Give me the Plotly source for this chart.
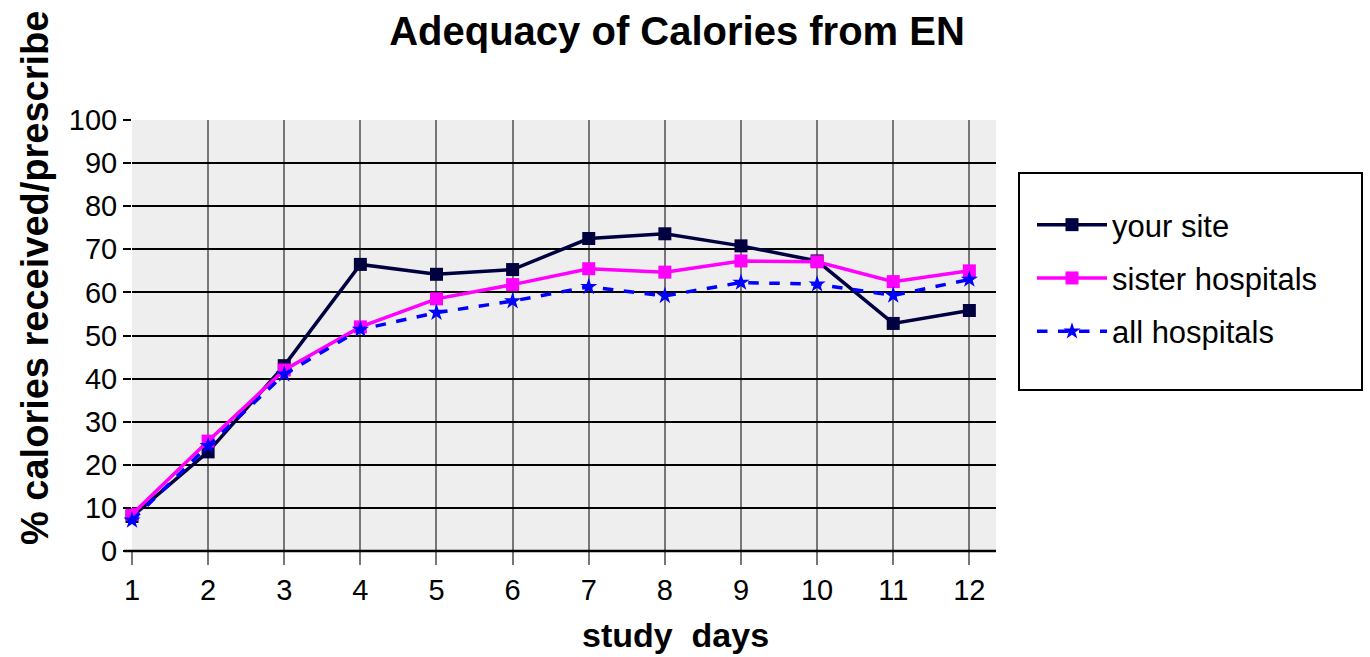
import plotly.graph_objects as go

days = list(range(1, 13))
your_site = [8.0, 23.0, 43.0, 66.5, 64.2, 65.3, 72.5, 73.6, 70.8, 67.3, 52.8, 55.8]
sister_hospitals = [8.5, 25.5, 42.0, 52.0, 58.5, 61.8, 65.5, 64.7, 67.3, 67.1, 62.5, 65.0]
all_hospitals = [7.1, 24.4, 41.0, 51.4, 55.3, 58.0, 61.3, 59.2, 62.3, 61.9, 59.3, 63.0]
series_names = ["your site", "sister hospitals", "all hospitals"]
y_ticks = list(range(0, 101, 10))

FONT = "Liberation Sans, Arial, sans-serif"

fig = go.Figure()
fig.add_trace(go.Scatter(
    x=days, y=your_site, name=series_names[0], mode="lines+markers",
    line=dict(color="#000040", width=3.5),
    marker=dict(symbol="square", size=13, color="#000040"),
    cliponaxis=False, legendgroup="a"))
fig.add_trace(go.Scatter(
    x=days, y=sister_hospitals, name=series_names[1], mode="lines+markers",
    line=dict(color="#ff00ff", width=3.5),
    marker=dict(symbol="square", size=13, color="#ff00ff"),
    cliponaxis=False, legendgroup="b"))
fig.add_trace(go.Scatter(
    x=days, y=all_hospitals, name=series_names[2], mode="lines+markers",
    line=dict(color="#0000ff", width=3.5, dash="dash"),
    marker=dict(symbol="star", size=13, color="#0000ff"),
    cliponaxis=False, legendgroup="c"))

W, H = 1370, 657
L, R, T, B = 132, 374, 120, 106
pw = W - L - R
ph = H - T - B

def px_x(p):
    return (p - L) / pw

def px_y(p):
    return (H - B - p) / ph

fig.update_layout(
    width=W, height=H,
    margin=dict(l=L, r=R, t=T, b=B),
    paper_bgcolor="white",
    plot_bgcolor="#eeeeee",
    font=dict(family=FONT, color="black"),
    title=dict(text="<b>Adequacy of Calories from EN</b>", font=dict(size=40, family=FONT),
               x=px_x(677), xref="paper", xanchor="center",
               y=1 - 31 / H, yref="container", yanchor="middle"),
    xaxis=dict(range=[1, 12.35], tickvals=days, ticktext=[str(d) for d in days],
               showgrid=True, gridcolor="#777777", gridwidth=2,
               ticks="outside", ticklen=13, tickwidth=2, tickcolor="#777777",
               tickfont=dict(size=29, family=FONT),
               showline=False, zeroline=False),
    yaxis=dict(range=[0, 100], tickvals=y_ticks,
               showgrid=True, gridcolor="black", gridwidth=2,
               ticks="outside", ticklen=8, tickwidth=2, tickcolor="black",
               tickfont=dict(size=29, family=FONT),
               showline=False, zeroline=False),
    showlegend=True,
    legend=dict(x=px_x(1032), y=px_y(198), xanchor="left", yanchor="top",
                xref="paper", yref="paper",
                bgcolor="rgba(0,0,0,0)", borderwidth=0,
                font=dict(size=31, family=FONT),
                itemwidth=70,
                traceorder="grouped", tracegroupgap=10),
    shapes=[
        dict(type="rect", xref="paper", yref="paper",
             x0=px_x(1019), x1=px_x(1362), y0=px_y(390), y1=px_y(173),
             line=dict(color="black", width=2), fillcolor="white", layer="below"),
        dict(type="line", xref="paper", yref="paper",
             x0=-8 / pw, x1=1, y0=0, y1=0,
             line=dict(color="black", width=2.5)),
    ],
    annotations=[
        dict(text="<b>% calories received/prescribe</b>", textangle=-90,
             xref="paper", yref="paper", x=px_x(35), y=px_y(278),
             xanchor="center", yanchor="middle", showarrow=False,
             font=dict(size=38, family=FONT)),
        dict(text="<b>study  days</b>",
             xref="paper", yref="paper", x=px_x(675), y=px_y(635),
             xanchor="center", yanchor="middle", showarrow=False,
             font=dict(size=34, family=FONT)),
    ],
)

fig.write_html("out.html")
